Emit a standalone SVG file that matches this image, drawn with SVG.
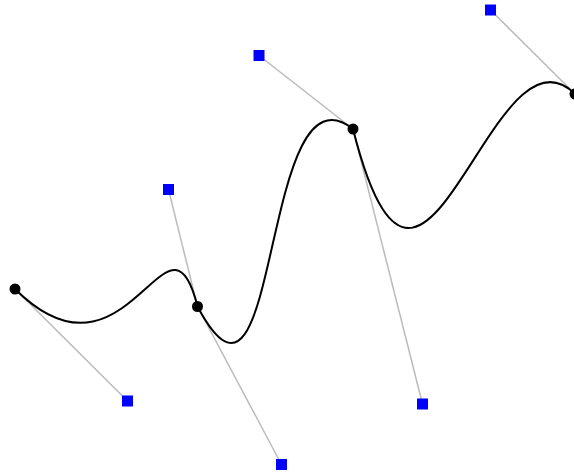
<svg xmlns="http://www.w3.org/2000/svg" width="574" height="473" viewBox="0 0 574 473">
<style>
.h{stroke:#bbbbbb;stroke-width:1.5;fill:none}
.c{stroke:#000;stroke-width:2;fill:none}
.a{fill:#000}
.p{fill:#0000ff}
</style>
<rect width="574" height="473" fill="#fff"/>
<g id="connectors">
<line class="h" x1="15" y1="289" x2="127.5" y2="401"/>
<line class="h" x1="168.5" y1="189.5" x2="197.5" y2="306.5"/>
<line class="h" x1="197.5" y1="306.5" x2="281.5" y2="464.5"/>
<line class="h" x1="259" y1="55.5" x2="353" y2="129"/>
<line class="h" x1="353" y1="129" x2="422.5" y2="404"/>
<line class="h" x1="490.5" y1="10" x2="575" y2="94"/>
<path id="curve" class="c" d="M15,289 C127.5,401 168.5,189.5 197.5,306.5 C281.5,464.5 259,55.5 353,129 C422.5,404 490.5,10 575,94"/>
</g>
<g id="anchor0"><circle class="a" cx="15" cy="289" r="5.5"/></g>
<g id="anchor1"><circle class="a" cx="197.5" cy="306.5" r="5.5"/></g>
<g id="anchor2"><circle class="a" cx="353" cy="129" r="5.5"/></g>
<g id="anchor3"><circle class="a" cx="575" cy="94" r="5.5"/></g>
<g id="control0"><rect class="p" x="122" y="395.5" width="11" height="11"/></g>
<g id="control1"><rect class="p" x="163" y="184" width="11" height="11"/></g>
<g id="control2"><rect class="p" x="276" y="459" width="11" height="11"/></g>
<g id="control3"><rect class="p" x="253.5" y="50" width="11" height="11"/></g>
<g id="control4"><rect class="p" x="417" y="398.5" width="11" height="11"/></g>
<g id="control5"><rect class="p" x="485" y="4.5" width="11" height="11"/></g>
</svg>
